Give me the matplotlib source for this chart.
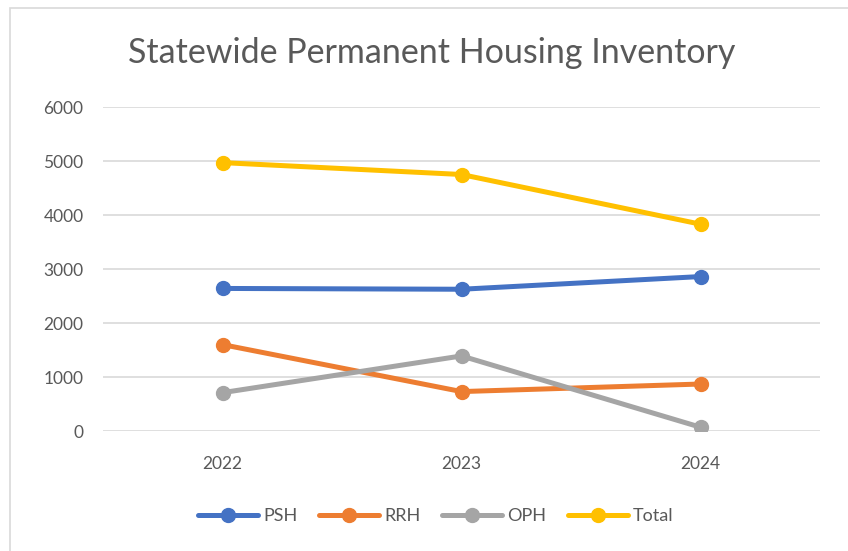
import matplotlib.pyplot as plt
from matplotlib.patches import Rectangle

years = ['2022', '2023', '2024']
psh = [2640, 2625, 2860]
rrh = [1600, 730, 870]
oph = [710, 1390, 70]
total = [4970, 4750, 3830]

series = [('PSH', psh, '#4472C4'), ('RRH', rrh, '#ED7D31'),
          ('OPH', oph, '#A5A5A5'), ('Total', total, '#FFC000')]

plt.rcParams['font.family'] = ['Lato', 'DejaVu Sans']
txt = '#595959'

fig = plt.figure(figsize=(8.48, 5.51), dpi=100)
# chart area frame
fig.patches.append(Rectangle((10 / 848, -0.1), 1.2, 1 - 8 / 551 + 0.1, transform=fig.transFigure,
                             fill=False, edgecolor='#d9d9d9', linewidth=1.2))
ax = fig.add_axes([103 / 848, 1 - 431 / 551, 717 / 848, 324 / 551])

x = range(len(years))
for name, vals, col in series:
    ax.plot(x, vals, color=col, linewidth=3.6, marker='o', markersize=10, label=name,
            solid_capstyle='round')

ax.set_xlim(-0.5, 2.5)
ax.set_ylim(0, 6000)
ax.set_yticks(range(0, 6001, 1000))
ax.set_xticks(list(x))
ax.set_xticklabels(years)
ax.grid(axis='y', color='#d9d9d9', linewidth=1.2)
ax.set_axisbelow(True)
for s in ax.spines.values():
    s.set_visible(False)
ax.tick_params(length=0, labelsize=12.5, colors=txt, pad=14)
ax.tick_params(axis='x', pad=18)

fig.text(432 / 848, 1 - 53 / 551, 'Statewide Permanent Housing Inventory', ha='center', va='center',
         fontsize=24.5, color=txt)

fig.legend(loc='center', bbox_to_anchor=(436 / 848, 1 - 516 / 551), ncol=4, frameon=False,
           fontsize=13, labelcolor=txt, handlelength=3.3, columnspacing=1.2, handletextpad=0.3)

fig.savefig('out.png', dpi=100)
